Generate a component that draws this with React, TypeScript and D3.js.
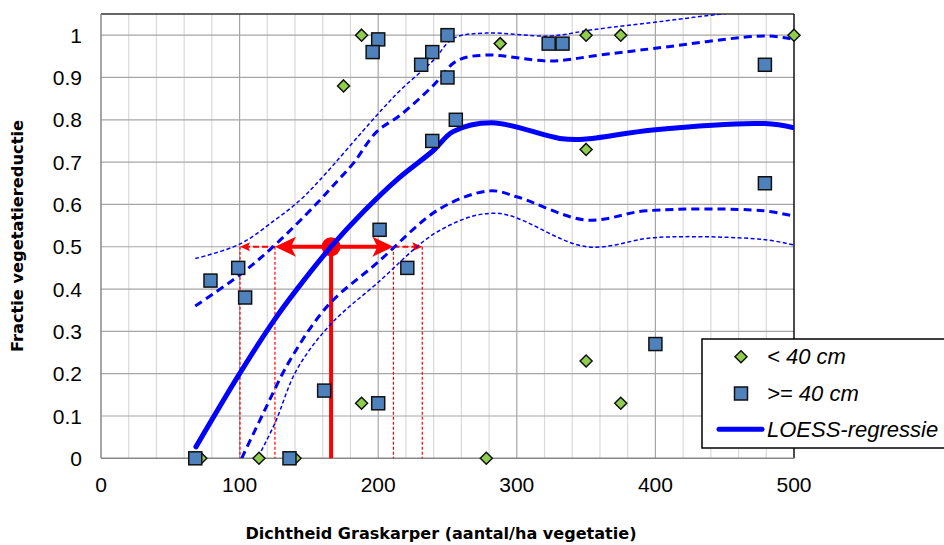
import React from 'react';
import * as d3 from 'd3';

type Pt = [number, number];

// measured points, fish < 40 cm
const smallFish: Pt[] = [
  [188, 1.0], [175, 0.88], [288, 0.98], [350, 1.0], [375, 1.0], [500, 1.0],
  [350, 0.73], [350, 0.23], [375, 0.13], [278, 0], [188, 0.13], [114, 0],
  [140, 0], [72, 0],
];

// measured points, fish >= 40 cm
const largeFish: Pt[] = [
  [200, 0.99], [196, 0.96], [250, 1.0], [239, 0.96], [231, 0.93], [250, 0.9],
  [256, 0.8], [239, 0.75], [323, 0.98], [333, 0.98], [479, 0.93], [479, 0.65],
  [400, 0.27], [201, 0.54], [221, 0.45], [99, 0.45], [79, 0.42], [104, 0.38],
  [161, 0.16], [200, 0.13], [68, 0], [136, 0],
];

// LOESS fit and confidence bands
const loess: Pt[] = [
  [68.5, 0.027], [100, 0.2], [124, 0.322], [141, 0.398], [166, 0.5],
  [190, 0.585], [214, 0.66], [240, 0.728], [254, 0.772], [282, 0.793],
  [331, 0.756], [348, 0.754], [398, 0.776], [479, 0.791], [500, 0.781],
];
const upperInner: Pt[] = [
  [68, 0.36], [100, 0.433], [125.5, 0.504], [155.6, 0.602], [171, 0.657],
  [182, 0.697], [199, 0.772], [216, 0.811], [240, 0.882], [256.6, 0.939],
  [278, 0.953], [324, 0.939], [360, 0.953], [400, 0.969], [480, 0.998],
  [500, 0.99],
];
const upperOuter: Pt[] = [
  [68, 0.472], [100, 0.506], [125.5, 0.563], [143.6, 0.61], [158, 0.658],
  [198, 0.807], [216, 0.87], [240, 0.941], [254, 0.992], [278, 1.005],
  [324, 0.998], [355, 1.013], [408, 1.034], [447, 1.05], [500, 1.07],
];
const lowerInner: Pt[] = [
  [101.5, 0], [117, 0.106], [136.4, 0.232], [164, 0.362], [199, 0.461],
  [244.6, 0.59], [280.7, 0.632], [300, 0.618], [350.4, 0.563], [393.7, 0.585],
  [478, 0.585], [500, 0.572],
];
const lowerOuter: Pt[] = [
  [113.5, 0.004], [125.5, 0.083], [141.2, 0.209], [165.2, 0.315],
  [199, 0.413], [244.6, 0.539], [285.5, 0.579], [350.4, 0.5], [401, 0.522],
  [478, 0.517], [500, 0.504],
];

// reading of the fit at 50% reduction
const estimate = { x: 166, y: 0.5 };
const innerLimits = [125.5, 211];
const outerLimits = [100.3, 231.8];

const xTicks = [0, 100, 200, 300, 400, 500];
const yTicks = [0, 0.1, 0.2, 0.3, 0.4, 0.5, 0.6, 0.7, 0.8, 0.9, 1];
const legendItems = ['< 40 cm', '>= 40 cm', 'LOESS-regressie'];

const W = 944;
const H = 545;
const margin = { top: 14, right: 150, bottom: 86.7, left: 101 };

const App: React.FC = () => {
  const x = d3.scaleLinear().domain([0, 500]).range([margin.left, W - margin.right]);
  const y = d3.scaleLinear().domain([0, 1.05]).range([H - margin.bottom, margin.top]);
  const line = d3
    .line<Pt>()
    .x((d) => x(d[0]))
    .y((d) => y(d[1]))
    .curve(d3.curveCatmullRom.alpha(0.5));

  const x0 = x(0);
  const x1 = x(500);
  const y0 = y(0);
  const y1 = y(1.05);
  const minorX = d3.range(20, 500, 20).filter((v) => v % 100 !== 0);
  const ey = y(estimate.y);
  const font = '"Liberation Sans", Arial, sans-serif';
  const titleFont = '"DejaVu Sans Condensed", "DejaVu Sans", sans-serif';

  const diamond = (cx: number, cy: number, r: number) =>
    `M${cx},${cy - r}L${cx + r},${cy}L${cx},${cy + r}L${cx - r},${cy}Z`;

  const li = x(innerLimits[0]);
  const ri = x(innerLimits[1]);
  const lo = x(outerLimits[0]);
  const ro = x(outerLimits[1]);

  return (
    <svg width={W} height={H} style={{ position: 'absolute', left: 0, top: 0 }}>
      <defs>
        <clipPath id="plot">
          <rect x={x0} y={y1} width={x1 - x0} height={y0 - y1} />
        </clipPath>
      </defs>
      <rect width={W} height={H} fill="#fff" />
      {/* grid */}
      {minorX.map((v) => (
        <line key={'mx' + v} x1={x(v)} x2={x(v)} y1={y1} y2={y0} stroke="#d9d9d9" strokeWidth={1.2} />
      ))}
      {xTicks.slice(1, -1).map((v) => (
        <line key={'Mx' + v} x1={x(v)} x2={x(v)} y1={y1} y2={y0} stroke="#a6a6a6" strokeWidth={1.2} />
      ))}
      {yTicks.slice(1).map((v) => (
        <line key={'gy' + v} x1={x0} x2={x1} y1={y(v)} y2={y(v)} stroke="#a6a6a6" strokeWidth={1.2} />
      ))}
      <line x1={x0} x2={x1} y1={y1} y2={y1} stroke="#333" strokeWidth={1.5} />
      <line x1={x1} x2={x1} y1={y1} y2={y0} stroke="#111" strokeWidth={1.5} />
      <line x1={x0} x2={x0} y1={y1} y2={y0} stroke="#888" strokeWidth={1.5} />
      <line x1={x0} x2={x1} y1={y0} y2={y0} stroke="#888" strokeWidth={1.5} />

      {/* red annotation */}
      <g stroke="#ff0000" fill="none">
        {[...innerLimits, ...outerLimits].map((v) => (
          <line key={'rv' + v} x1={x(v)} x2={x(v)} y1={ey} y2={y0} strokeWidth={1.2} strokeDasharray="3,2" />
        ))}
        <line x1={lo + 4} x2={li} y1={ey} y2={ey} strokeWidth={1.8} strokeDasharray="6,3" />
        <line x1={ri} x2={ro - 4} y1={ey} y2={ey} strokeWidth={1.8} strokeDasharray="6,3" />
        <line x1={li + 10} x2={ri - 10} y1={ey} y2={ey} strokeWidth={4} />
        <line x1={x(estimate.x)} x2={x(estimate.x)} y1={ey} y2={y0} strokeWidth={4} />
      </g>
      <g fill="#ff0000">
        <path d={`M${li},${ey}L${li + 21},${ey - 10}L${li + 16},${ey}L${li + 21},${ey + 10}Z`} />
        <path d={`M${ri},${ey}L${ri - 21},${ey - 10}L${ri - 16},${ey}L${ri - 21},${ey + 10}Z`} />
        <path d={`M${lo},${ey}L${lo + 10},${ey - 4.5}L${lo + 8},${ey}L${lo + 10},${ey + 4.5}Z`} />
        <path d={`M${ro},${ey}L${ro - 10},${ey - 4.5}L${ro - 8},${ey}L${ro - 10},${ey + 4.5}Z`} />
        <circle cx={x(estimate.x)} cy={ey} r={9.5} />
      </g>

      {/* LOESS curves */}
      <g clipPath="url(#plot)" fill="none" stroke="#0000ff">
        <path d={line(upperOuter) ?? ''} strokeWidth={1.5} strokeDasharray="4,2.5" />
        <path d={line(lowerOuter) ?? ''} strokeWidth={1.5} strokeDasharray="4,2.5" />
        <path d={line(upperInner) ?? ''} strokeWidth={3} strokeDasharray="8,5" />
        <path d={line(lowerInner) ?? ''} strokeWidth={3} strokeDasharray="8,5" />
        <path d={line(loess) ?? ''} strokeWidth={5} strokeLinecap="round" />
      </g>

      {/* data */}
      {smallFish.map((d, i) => (
        <path key={'s' + i} d={diamond(x(d[0]), y(d[1]), 6)} fill="#8fcd4c" stroke="#111" strokeWidth={1.5} />
      ))}
      {largeFish.map((d, i) => (
        <rect key={'l' + i} x={x(d[0]) - 6.5} y={y(d[1]) - 6.5} width={13} height={13} fill="#4f81bd" stroke="#111" strokeWidth={1.5} />
      ))}

      {/* axes labels */}
      {yTicks.map((v) => (
        <text key={'yt' + v} x={82} y={y(v) + 7.7} textAnchor="end" fontFamily={font} fontSize={21} fill="#000">
          {d3.format('~g')(v)}
        </text>
      ))}
      {xTicks.map((v) => (
        <text key={'xt' + v} x={x(v)} y={491.7} textAnchor="middle" fontFamily={font} fontSize={21} fill="#000">
          {v}
        </text>
      ))}
      <text x={441} y={539} textAnchor="middle" fontFamily={titleFont} fontWeight="bold" fontSize={16} textLength={391} lengthAdjust="spacingAndGlyphs">
        Dichtheid Graskarper (aantal/ha vegetatie)
      </text>
      <text transform="translate(23,236) rotate(-90)" textAnchor="middle" fontFamily={titleFont} fontWeight="bold" fontSize={15} textLength={232} lengthAdjust="spacingAndGlyphs">
        Fractie vegetatiereductie
      </text>

      {/* legend */}
      <rect x={702} y={339} width={260} height={109} fill="#fff" stroke="#000" strokeWidth={1.5} />
      <path d={diamond(741, 356.7, 6)} fill="#8fcd4c" stroke="#111" strokeWidth={1.5} />
      <rect x={734.5} y={387} width={13} height={13} fill="#4f81bd" stroke="#111" strokeWidth={1.5} />
      <line x1={719} x2={762} y1={429.3} y2={429.3} stroke="#0000ff" strokeWidth={5} strokeLinecap="round" />
      {legendItems.map((t, i) => (
        <text key={t} x={767} y={364 + i * 36.7} fontFamily={font} fontStyle="italic" fontSize={22} fill="#000">
          {t}
        </text>
      ))}
    </svg>
  );
};

export default App;
